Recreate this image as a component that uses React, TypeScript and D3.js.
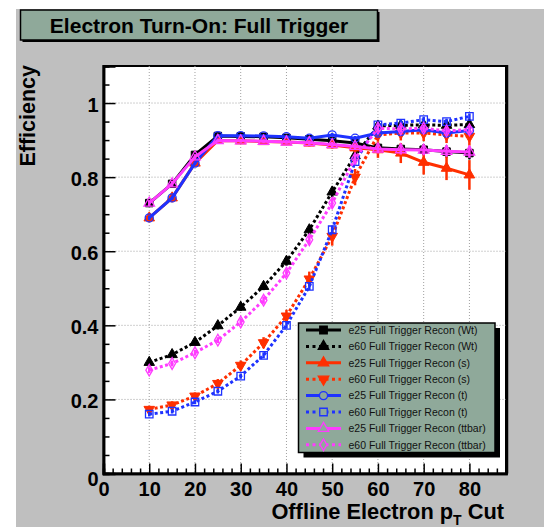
import React, { useRef, useEffect } from "react";
import * as d3 from "d3";

// offline pT cut values (GeV)
const ptCuts = [10, 15, 20, 25, 30, 35, 40, 45, 50, 55, 60, 65, 70, 75, 80];

// efficiencies
const e25Wt = [0.730, 0.782, 0.860, 0.911, 0.910, 0.909, 0.906, 0.902, 0.898, 0.892, 0.879, 0.876, 0.874, 0.869, 0.865];
const e60Wt = [0.300, 0.321, 0.354, 0.399, 0.449, 0.505, 0.573, 0.658, 0.760, 0.858, 0.938, 0.940, 0.941, 0.940, 0.942];
const e25s = [0.690, 0.744, 0.838, 0.899, 0.898, 0.896, 0.895, 0.892, 0.887, 0.879, 0.874, 0.865, 0.840, 0.824, 0.806];
const e60s = [0.173, 0.185, 0.209, 0.243, 0.292, 0.353, 0.425, 0.525, 0.640, 0.800, 0.914, 0.919, 0.919, 0.914, 0.910];
const e25t = [0.690, 0.744, 0.838, 0.912, 0.912, 0.911, 0.909, 0.905, 0.914, 0.905, 0.919, 0.923, 0.928, 0.919, 0.926];
const e60t = [0.160, 0.168, 0.193, 0.222, 0.263, 0.319, 0.400, 0.505, 0.658, 0.842, 0.941, 0.946, 0.955, 0.950, 0.964];
const e25ttbar = [0.730, 0.782, 0.855, 0.899, 0.898, 0.897, 0.895, 0.893, 0.888, 0.883, 0.876, 0.874, 0.873, 0.870, 0.868];
const e60ttbar = [0.279, 0.297, 0.326, 0.360, 0.409, 0.468, 0.541, 0.631, 0.730, 0.850, 0.932, 0.930, 0.932, 0.925, 0.928];

// statistical errors
const errE25Wt = [0.010, 0.010, 0.008, 0.005, 0.005, 0.005, 0.005, 0.006, 0.007, 0.008, 0.012, 0.013, 0.015, 0.016, 0.017];
const errE60Wt = [0.010, 0.010, 0.010, 0.010, 0.010, 0.010, 0.012, 0.013, 0.014, 0.012, 0.010, 0.010, 0.010, 0.012, 0.012];
const errE25s = [0.012, 0.012, 0.010, 0.008, 0.008, 0.008, 0.008, 0.009, 0.010, 0.013, 0.022, 0.027, 0.033, 0.032, 0.040];
const errE60s = [0.010, 0.010, 0.010, 0.012, 0.013, 0.015, 0.017, 0.020, 0.025, 0.022, 0.018, 0.020, 0.022, 0.022, 0.025];
const errE25t = [0.006, 0.006, 0.005, 0.004, 0.004, 0.004, 0.004, 0.005, 0.005, 0.006, 0.008, 0.008, 0.009, 0.010, 0.010];
const errE60t = [0.006, 0.006, 0.006, 0.006, 0.007, 0.008, 0.009, 0.010, 0.011, 0.010, 0.008, 0.008, 0.008, 0.008, 0.008];
const errE25ttbar = [0.008, 0.008, 0.007, 0.005, 0.005, 0.005, 0.005, 0.006, 0.007, 0.008, 0.012, 0.013, 0.014, 0.015, 0.016];
const errE60ttbar = [0.008, 0.008, 0.008, 0.008, 0.009, 0.010, 0.011, 0.012, 0.013, 0.012, 0.010, 0.010, 0.010, 0.011, 0.011];

const seriesLabels = [
  "e25 Full Trigger Recon (Wt)",
  "e60 Full Trigger Recon (Wt)",
  "e25 Full Trigger Recon (s)",
  "e60 Full Trigger Recon (s)",
  "e25 Full Trigger Recon (t)",
  "e60 Full Trigger Recon (t)",
  "e25 Full Trigger Recon (ttbar)",
  "e60 Full Trigger Recon (ttbar)",
];

const xMajorTicks = [0, 10, 20, 30, 40, 50, 60, 70, 80];
const yMajorTicks = [0, 0.2, 0.4, 0.6, 0.8, 1];

const W = 544;
const H = 527;
const frame = { left: 103.5, right: 506, top: 66, bottom: 473.5 };

const BLACK = "#000000";
const RED = "#ff2f00";
const BLUE = "#1e32ff";
const MAGENTA = "#ff3cff";
const PANEL = "#8fa99a";

type Marker = "square" | "triangle" | "triangleDown" | "circle" | "diamond";

const series = [
  { label: seriesLabels[0], values: e25Wt, errors: errE25Wt, color: BLACK, dotted: false, marker: "square" as Marker, filled: true },
  { label: seriesLabels[1], values: e60Wt, errors: errE60Wt, color: BLACK, dotted: true, marker: "triangle" as Marker, filled: true },
  { label: seriesLabels[2], values: e25s, errors: errE25s, color: RED, dotted: false, marker: "triangle" as Marker, filled: true },
  { label: seriesLabels[3], values: e60s, errors: errE60s, color: RED, dotted: true, marker: "triangleDown" as Marker, filled: true },
  { label: seriesLabels[4], values: e25t, errors: errE25t, color: BLUE, dotted: false, marker: "circle" as Marker, filled: false },
  { label: seriesLabels[5], values: e60t, errors: errE60t, color: BLUE, dotted: true, marker: "square" as Marker, filled: false },
  { label: seriesLabels[6], values: e25ttbar, errors: errE25ttbar, color: MAGENTA, dotted: false, marker: "triangle" as Marker, filled: false },
  { label: seriesLabels[7], values: e60ttbar, errors: errE60ttbar, color: MAGENTA, dotted: true, marker: "diamond" as Marker, filled: false },
];

const symbolFor = (m: Marker) => {
  if (m === "square") return d3.symbol(d3.symbolSquare, 56)();
  if (m === "circle") return d3.symbol(d3.symbolCircle, 52)();
  if (m === "diamond") return d3.symbol(d3.symbolDiamond, 40)();
  return d3.symbol(d3.symbolTriangle, 48)();
};

const App = () => {
  const svgRef = useRef<SVGSVGElement>(null);

  useEffect(() => {
    const svg = d3.select(svgRef.current);
    svg.selectAll("*").remove();

    const x = d3.scaleLinear().domain([0, 88]).range([frame.left, frame.right]);
    const y = d3.scaleLinear().domain([0, 1.1]).range([frame.bottom, frame.top]);

    // canvas background
    svg.append("rect").attr("x", 16).attr("y", 9).attr("width", W - 16).attr("height", H - 9).attr("fill", "#bfbfbf");

    // title box
    svg.append("rect").attr("x", 22.5).attr("y", 12).attr("width", 357).attr("height", 30).attr("fill", "#000");
    svg.append("rect")
      .attr("x", 20.5).attr("y", 10).attr("width", 357).attr("height", 30)
      .attr("fill", PANEL).attr("stroke", "#000").attr("stroke-width", 1.5);
    svg.append("text")
      .attr("x", 199).attr("y", 33)
      .attr("text-anchor", "middle")
      .style("font-family", "'Liberation Sans', Arial, sans-serif")
      .style("font-weight", "bold")
      .style("font-size", "21px")
      .text("Electron Turn-On: Full Trigger");

    // frame
    svg.append("rect")
      .attr("x", frame.left).attr("y", frame.top)
      .attr("width", frame.right - frame.left).attr("height", frame.bottom - frame.top)
      .attr("fill", "#fff").attr("stroke", "#000").attr("stroke-width", 2);
    svg.append("line")
      .attr("x1", frame.right + 1).attr("x2", frame.right + 1)
      .attr("y1", frame.top - 1).attr("y2", frame.bottom)
      .attr("stroke", "#000").attr("stroke-width", 2.5);

    // grid
    const grid = svg.append("g").attr("stroke", "#a0a0a0").attr("stroke-width", 1).attr("stroke-dasharray", "1,2");
    xMajorTicks.filter(d => d > 0).forEach(d => {
      grid.append("line").attr("x1", x(d)).attr("x2", x(d)).attr("y1", frame.top).attr("y2", frame.bottom);
    });
    yMajorTicks.filter(d => d > 0).forEach(d => {
      grid.append("line").attr("x1", frame.left).attr("x2", frame.right).attr("y1", y(d)).attr("y2", y(d));
    });

    const fontFamily = "'Liberation Sans', Arial, sans-serif";

    // x axis
    const xMinor = d3.range(0, 89, 2).filter(d => d % 10 !== 0);
    const xAxisMinor = svg.append("g")
      .attr("transform", `translate(0,${frame.bottom})`)
      .call(d3.axisBottom(x).tickValues(xMinor).tickSize(-5).tickFormat(() => ""));
    const xAxis = svg.append("g")
      .attr("transform", `translate(0,${frame.bottom})`)
      .call(d3.axisBottom(x).tickValues(xMajorTicks).tickSize(-10).tickPadding(8).tickFormat(d3.format("d")));
    xAxis.selectAll("text")
      .attr("fill", "#000")
      .attr("dy", "0.72em")
      .style("font-family", fontFamily)
      .style("font-weight", "bold")
      .style("font-size", "20px");

    // y axis
    const yMinor = d3.range(0, 22).map(i => i * 0.05).filter(d => Math.abs(d / 0.2 - Math.round(d / 0.2)) > 1e-6);
    const yAxisMinor = svg.append("g")
      .attr("transform", `translate(${frame.left},0)`)
      .call(d3.axisLeft(y).tickValues(yMinor).tickSize(-6).tickFormat(() => ""));
    const yAxis = svg.append("g")
      .attr("transform", `translate(${frame.left},0)`)
      .call(d3.axisLeft(y).tickValues(yMajorTicks).tickSize(-12).tickPadding(5)
        .tickFormat(d => (+d === 0 ? "0" : d3.format("~g")(+d))));
    yAxis.selectAll("text")
      .attr("fill", "#000")
      .attr("dy", (d: any) => (d === 0 ? "0.62em" : "0.42em"))
      .style("font-family", fontFamily)
      .style("font-weight", "bold")
      .style("font-size", "20px");

    [xAxis, xAxisMinor, yAxis, yAxisMinor].forEach(a => {
      a.selectAll(".tick line").attr("stroke", "#000").attr("stroke-width", 1.5);
      a.selectAll(".domain").attr("stroke", "#000").attr("stroke-width", 2.5);
    });

    // axis titles
    svg.append("text")
      .attr("transform", `translate(35,${frame.top - 1}) rotate(-90)`)
      .attr("text-anchor", "end")
      .style("font-family", fontFamily)
      .style("font-weight", "bold")
      .style("font-size", "21.5px")
      .text("Efficiency");

    const xt = svg.append("text")
      .attr("x", 504).attr("y", 519)
      .attr("text-anchor", "end")
      .style("font-family", fontFamily)
      .style("font-weight", "bold")
      .style("font-size", "21.8px");
    xt.append("tspan").text("Offline Electron p");
    xt.append("tspan").attr("dy", 6).style("font-size", "14px").text("T");
    xt.append("tspan").attr("dy", -6).text(" Cut");

    // data
    const plot = svg.append("g");
    series.forEach(s => {
      const pts = ptCuts.map((p, i) => ({ p, v: s.values[i], e: s.errors[i] }));
      const line = d3.line<{ p: number; v: number }>().x(d => x(d.p)).y(d => y(d.v));
      const g = plot.append("g");
      g.selectAll("line.err")
        .data(pts)
        .enter()
        .append("line")
        .attr("x1", d => x(d.p)).attr("x2", d => x(d.p))
        .attr("y1", d => y(d.v - d.e)).attr("y2", d => y(d.v + d.e))
        .attr("stroke", s.color).attr("stroke-width", 2.5);
      g.append("path")
        .datum(pts)
        .attr("fill", "none")
        .attr("stroke", s.color)
        .attr("stroke-width", 3)
        .attr("stroke-dasharray", s.dotted ? "3,2.5" : null)
        .attr("d", line);
      g.selectAll("path.mk")
        .data(pts)
        .enter()
        .append("path")
        .attr("d", symbolFor(s.marker))
        .attr("transform", d => `translate(${x(d.p)},${y(d.v)})${s.marker === "triangleDown" ? " rotate(180)" : ""}`)
        .attr("fill", s.filled ? s.color : "none")
        .attr("stroke", s.color)
        .attr("stroke-width", s.filled ? 1 : 1.3);
    });

    // legend
    const lg = { x: 298.5, y: 323, w: 196.5, h: 129.5 };
    svg.append("rect").attr("x", lg.x + 5).attr("y", lg.y + 5).attr("width", lg.w).attr("height", lg.h).attr("fill", "#000");
    svg.append("rect")
      .attr("x", lg.x).attr("y", lg.y).attr("width", lg.w).attr("height", lg.h)
      .attr("fill", PANEL).attr("stroke", "#000").attr("stroke-width", 1.5);
    series.forEach((s, i) => {
      const cy = 330 + i * 16.4;
      const row = svg.append("g").attr("transform", `translate(0,${cy})`);
      row.append("line")
        .attr("x1", 306).attr("x2", 341).attr("y1", 0).attr("y2", 0)
        .attr("stroke", s.color).attr("stroke-width", 3)
        .attr("stroke-dasharray", s.dotted ? "3,3.5" : null);
      row.append("path")
        .attr("d", symbolFor(s.marker))
        .attr("transform", `translate(323.5,0)${s.marker === "triangleDown" ? " rotate(180)" : ""}`)
        .attr("fill", s.filled ? s.color : PANEL)
        .attr("stroke", s.color)
        .attr("stroke-width", 1.3);
      row.append("text")
        .attr("x", 348.5).attr("y", 0).attr("dy", "0.36em")
        .style("font-family", fontFamily)
        .style("font-size", "10.5px")
        .attr("fill", "#111")
        .text(s.label);
    });
  }, []);

  return (
    <svg
      ref={svgRef}
      width={W}
      height={H}
      style={{ position: "absolute", left: 0, top: 0, background: "#fff" }}
    ></svg>
  );
};

export default App;
